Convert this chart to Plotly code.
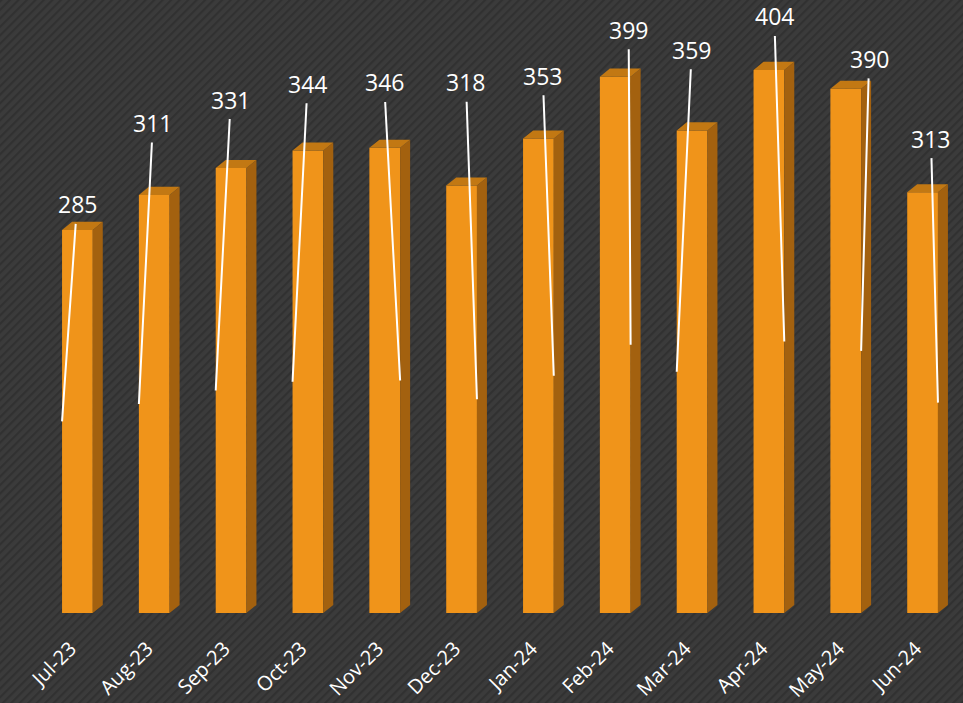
import base64
import plotly.graph_objects as go

months = ["Jul-23", "Aug-23", "Sep-23", "Oct-23", "Nov-23", "Dec-23",
          "Jan-24", "Feb-24", "Mar-24", "Apr-24", "May-24", "Jun-24"]
values = [285, 311, 331, 344, 346, 318, 353, 399, 359, 404, 390, 313]

# leader-line anchor side on the bar (-1 left edge, +1 right edge) and label offsets (px)
anchor_side = [-1, -1, -1, -1, 1, 1, 1, 1, -1, 1, 1, 1]
label_dx = [15, 14, 15, 15, -16, -11, -11, -2, 15, -10, 8, -7]
label_dy = [-217, -281, -291, -298, -298, -317, -300, -315, -322, -325, -292, -264]

W, H = 963, 703
ML, MR, MT, MB = 39, 2, 0, 90
PW, PH = W - ML - MR, H - MT - MB
YMAX = 456

FRONT = "#F0941A"
SIDE = "#A3610F"
TOP = "#C27813"
BW = 0.40
DX = 0.13   # depth in category units
DY = 6.0    # depth in value units
TICK_SHIFT = -0.09

svg = f'''<svg xmlns="http://www.w3.org/2000/svg" width="{W}" height="{H}">
<defs><pattern id="p" width="6" height="6" patternUnits="userSpaceOnUse" patternTransform="rotate(45)">
<rect width="6" height="6" fill="#3b3b3b"/><rect width="2.2" height="6" fill="#313131"/></pattern></defs>
<rect width="100%" height="100%" fill="url(#p)"/></svg>'''
uri = "data:image/svg+xml;base64," + base64.b64encode(svg.encode()).decode()

xs = list(range(len(months)))
fig = go.Figure(go.Bar(x=xs, y=values, width=BW, marker=dict(color=FRONT, line=dict(width=0)),
                       hoverinfo="skip"))

shapes = []
annotations = []
for i, v in enumerate(values):
    xl, xr = i - BW / 2, i + BW / 2
    shapes.append(dict(type="path", xref="x", yref="y", layer="above",
                       path=f"M {xr},0 L {xr},{v} L {xr+DX},{v+DY} L {xr+DX},{DY} Z",
                       fillcolor=SIDE, line=dict(width=0)))
    shapes.append(dict(type="path", xref="x", yref="y", layer="above",
                       path=f"M {xl},{v} L {xr},{v} L {xr+DX},{v+DY} L {xl+DX},{v+DY} Z",
                       fillcolor=TOP, line=dict(width=0)))
    annotations.append(dict(x=i + anchor_side[i] * BW / 2, y=v / 2, xref="x", yref="y",
                            text=str(v), showarrow=True, arrowhead=0, arrowwidth=2,
                            arrowcolor="white", ax=label_dx[i], ay=label_dy[i],
                            font=dict(color="white", size=23, family="Open Sans"),
                            borderpad=3))

fig.update_layout(
    width=W, height=H,
    margin=dict(l=ML, r=MR, t=MT, b=MB, autoexpand=False),
    paper_bgcolor="#383838", plot_bgcolor="rgba(0,0,0,0)",
    showlegend=False,
    shapes=shapes, annotations=annotations,
    images=[dict(source=uri, xref="paper", yref="paper", x=-ML / PW, y=1 + MT / PH,
                 sizex=W / PW, sizey=H / PH, xanchor="left", yanchor="top",
                 sizing="stretch", layer="below")],
    xaxis=dict(range=[-0.5, len(months) - 0.5], tickvals=[x + TICK_SHIFT for x in xs],
               ticktext=months, automargin=False,
               tickangle=-45, showgrid=False, zeroline=False, showline=False,
               ticks="", ticklabelstandoff=19,
               tickfont=dict(color="white", size=20, family="Open Sans")),
    yaxis=dict(range=[0, YMAX], visible=False, showgrid=False, zeroline=False,
               automargin=False),
)

fig.write_html("out.html", config={"displayModeBar": False},
               post_script="document.body.style.margin='0';document.body.style.overflow='hidden';")
